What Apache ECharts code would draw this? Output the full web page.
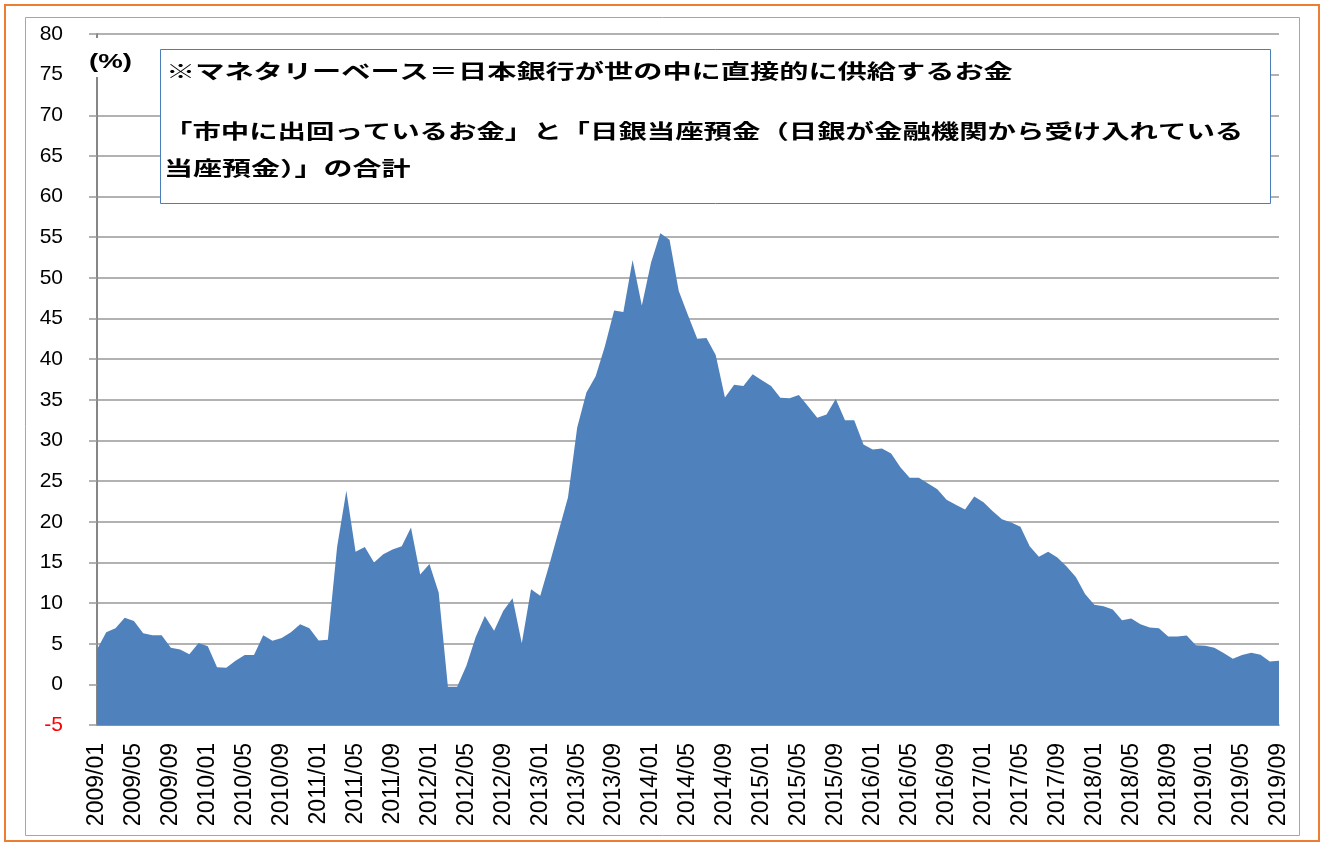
<!DOCTYPE html>
<html>
<head>
<meta charset="utf-8">
<script src="https://cdn.jsdelivr.net/npm/echarts@6/dist/echarts.min.js"></script>
<style>
html,body{margin:0;padding:0;background:#fff;}
#chart{width:1324px;height:844px;}
</style>
</head>
<body>
<div id="chart"></div>
<script>
// Categories (monthly, 2009/01 - 2019/09)
const categories = [
"2009/01","2009/02","2009/03","2009/04","2009/05","2009/06","2009/07","2009/08","2009/09","2009/10","2009/11","2009/12",
"2010/01","2010/02","2010/03","2010/04","2010/05","2010/06","2010/07","2010/08","2010/09","2010/10","2010/11","2010/12",
"2011/01","2011/02","2011/03","2011/04","2011/05","2011/06","2011/07","2011/08","2011/09","2011/10","2011/11","2011/12",
"2012/01","2012/02","2012/03","2012/04","2012/05","2012/06","2012/07","2012/08","2012/09","2012/10","2012/11","2012/12",
"2013/01","2013/02","2013/03","2013/04","2013/05","2013/06","2013/07","2013/08","2013/09","2013/10","2013/11","2013/12",
"2014/01","2014/02","2014/03","2014/04","2014/05","2014/06","2014/07","2014/08","2014/09","2014/10","2014/11","2014/12",
"2015/01","2015/02","2015/03","2015/04","2015/05","2015/06","2015/07","2015/08","2015/09","2015/10","2015/11","2015/12",
"2016/01","2016/02","2016/03","2016/04","2016/05","2016/06","2016/07","2016/08","2016/09","2016/10","2016/11","2016/12",
"2017/01","2017/02","2017/03","2017/04","2017/05","2017/06","2017/07","2017/08","2017/09","2017/10","2017/11","2017/12",
"2018/01","2018/02","2018/03","2018/04","2018/05","2018/06","2018/07","2018/08","2018/09","2018/10","2018/11","2018/12",
"2019/01","2019/02","2019/03","2019/04","2019/05","2019/06","2019/07","2019/08","2019/09"
];

// Monetary base, year-on-year change (%)
const values = [
4.3, 6.4, 6.9, 8.2, 7.8, 6.3, 6.05, 6.05, 4.5, 4.3, 3.7, 5.1,
4.7, 2.1, 2.05, 2.9, 3.6, 3.6, 6.05, 5.35, 5.7, 6.4, 7.4, 6.9,
5.4, 5.5, 16.9, 23.8, 16.3, 16.9, 15.0, 16.0, 16.6, 17.0, 19.3, 13.5,
14.8, 11.3, -0.3, -0.3, 2.3, 5.8, 8.4, 6.6, 9.05, 10.6, 5.06, 11.7,
10.9, 14.8, 18.9, 23.0, 31.6, 35.9, 37.9, 41.6, 46.0, 45.8, 52.2, 46.6,
51.9, 55.5, 54.7, 48.4, 45.4, 42.5, 42.6, 40.5, 35.3, 36.85, 36.7, 38.15,
37.4, 36.7, 35.25, 35.2, 35.6, 34.2, 32.8, 33.2, 35.1, 32.5, 32.5, 29.5,
28.9, 29.0, 28.4, 26.7, 25.4, 25.4, 24.7, 24.0, 22.7, 22.1, 21.5, 23.1,
22.4, 21.3, 20.3, 19.9, 19.4, 17.0, 15.7, 16.3, 15.6, 14.5, 13.2, 11.1,
9.8, 9.6, 9.2, 7.9, 8.1, 7.4, 7.0, 6.9, 5.9, 5.9, 6.0, 4.8,
4.75, 4.5, 3.85, 3.15, 3.6, 3.9, 3.65, 2.8, 2.9
];

// Y axis ticks
const yMin = -5;
const yMax = 80;
const yStep = 5;

// Texts
const unitLabel = "(%)";
const noteLines = [
  "※マネタリーベース＝日本銀行が世の中に直接的に供給するお金",
  "「市中に出回っているお金」と「日銀当座預金（日銀が金融機関から受け入れている",
  "当座預金）」の合計"
];

const chart = echarts.init(document.getElementById('chart'), null, {renderer: 'canvas'});
const jp = '"Noto Sans CJK JP", "Noto Sans CJK SC", sans-serif';
const lat = '"Liberation Sans", Arial, sans-serif';

const option = {
  animation: false,
  backgroundColor: '#ffffff',
  grid: {left: 97, right: 45, top: 34, bottom: 119, containLabel: false},
  xAxis: {
    type: 'category',
    data: categories,
    boundaryGap: false,
    axisLine: {show: true, onZero: false, lineStyle: {color: '#868686', width: 1.5}},
    axisTick: {show: false},
    axisLabel: {
      interval: 3,
      rotate: 90,
      margin: 18,
      color: '#000',
      fontSize: 23,
      fontFamily: lat
    },
    splitLine: {show: false}
  },
  yAxis: {
    type: 'value',
    min: yMin,
    max: yMax,
    interval: yStep,
    axisLine: {show: true, lineStyle: {color: '#868686', width: 2}},
    axisTick: {show: true, length: 8, lineStyle: {color: '#999', width: 1.5}},
    axisLabel: {
      margin: 34,
      fontSize: 21,
      fontFamily: lat,
      color: function (v) { return Number(v) < 0 ? '#ff0000' : '#000000'; }
    },
    splitLine: {show: true, lineStyle: {color: '#999999', width: 1.5}}
  },
  series: [{
    type: 'line',
    data: values,
    symbol: 'none',
    smooth: false,
    lineStyle: {width: 0, color: '#4f81bd'},
    itemStyle: {color: '#4f81bd'},
    areaStyle: {color: '#4f81bd', opacity: 1, origin: 'start'}
  }],
  graphic: [
    {type: 'rect', z: 200, silent: true, shape: {x: 5, y: 5, width: 1314, height: 836},
     style: {fill: 'none', stroke: '#ed7d31', lineWidth: 2}},
    {type: 'rect', z: 200, silent: true, shape: {x: 25.5, y: 17.5, width: 1274, height: 818},
     style: {fill: 'none', stroke: '#a6a6a6', lineWidth: 1}},
    {type: 'rect', z: 150, silent: true, shape: {x: 86, y: 38, width: 74, height: 39},
     style: {fill: '#ffffff', stroke: 'none'}},
    {type: 'text', z: 160, silent: true, x: 89, y: 62, scaleX: 1.38,
     style: {text: unitLabel, fontSize: 20, fontWeight: 'bold', fontFamily: lat, fill: '#000',
             align: 'left', verticalAlign: 'middle'}},
    {type: 'rect', z: 150, silent: true, shape: {x: 160.5, y: 49.5, width: 1110, height: 154},
     style: {fill: '#ffffff', stroke: '#4a7ebb', lineWidth: 1}},
    {type: 'text', z: 160, silent: true, x: 166, y: 71, scaleX: 1.46,
     style: {text: noteLines[0], fontSize: 20, fontWeight: 'bold', fontFamily: jp, fill: '#000',
             align: 'left', verticalAlign: 'middle'}},
    {type: 'text', z: 160, silent: true, x: 164, y: 131, scaleX: 1.42,
     style: {text: noteLines[1], fontSize: 20, fontWeight: 'bold', fontFamily: jp, fill: '#000',
             align: 'left', verticalAlign: 'middle'}},
    {type: 'text', z: 160, silent: true, x: 164, y: 168, scaleX: 1.45,
     style: {text: noteLines[2], fontSize: 20, fontWeight: 'bold', fontFamily: jp, fill: '#000',
             align: 'left', verticalAlign: 'middle'}}
  ]
};
chart.setOption(option);
</script>
</body>
</html>
